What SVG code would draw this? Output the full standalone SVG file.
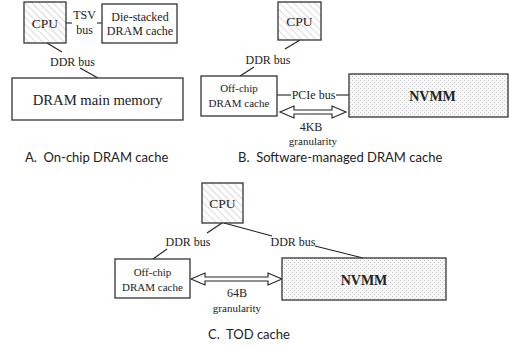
<svg xmlns="http://www.w3.org/2000/svg" width="510" height="347" viewBox="0 0 510 347">
  <defs>
    <!-- diagonal hatching for processor boxes -->
    <pattern id="hatch" width="5" height="5" patternUnits="userSpaceOnUse" patternTransform="rotate(-45)">
      <line x1="0" y1="0" x2="0" y2="5" stroke="#b8b8b8" stroke-width="1"/>
    </pattern>
    <!-- fine dot texture for non-volatile memory -->
    <pattern id="dots" width="4" height="4" patternUnits="userSpaceOnUse">
      <rect width="4" height="4" fill="#f8f8f8"/>
      <rect x="0" y="0" width="1" height="1" fill="#cacaca"/>
      <rect x="2" y="2" width="1" height="1" fill="#cacaca"/>
    </pattern>
  </defs>
  <style>
    .box { fill: #fff; stroke: #333; stroke-width: 1.3; }
    .cpu { fill: url(#hatch); stroke: #333; stroke-width: 1.3; }
    .nvmm { fill: url(#dots); stroke: #333; stroke-width: 1.3; }
    .wire { stroke: #222; stroke-width: 1.1; fill: none; }
    .dbl { fill: #fff; stroke: #222; stroke-width: 1.1; }
    .s { font-family: 'Liberation Serif', 'DejaVu Serif', serif; fill: #222; text-anchor: middle; }
    .t13 { font-size: 13.5px; }
    .t12 { font-size: 12px; }
    .t11 { font-size: 11px; }
    .t15 { font-size: 14.7px; }
    .bold { font-size: 14px; font-weight: bold; }
    .cap { font-family: Lato, 'Open Sans', 'Liberation Sans', sans-serif; font-size: 13px; fill: #222; }
  </style>

  <rect width="510" height="347" fill="#fff"/>

  <!-- connectors -->
  <g id="connectors">
    <!-- A -->
    <line class="wire" x1="66" y1="23" x2="72" y2="23"/>
    <line class="wire" x1="97" y1="23" x2="102" y2="23"/>
    <line class="wire" x1="47" y1="43" x2="62" y2="52"/>
    <line class="wire" x1="80" y1="68" x2="98" y2="78"/>
    <!-- B -->
    <line class="wire" x1="300" y1="40" x2="285" y2="49"/>
    <line class="wire" x1="254" y1="67" x2="240" y2="76"/>
    <line class="wire" x1="277" y1="95" x2="291" y2="95"/>
    <line class="wire" x1="336" y1="95" x2="349" y2="95"/>
    <path class="dbl" d="M280,112 L294,106 L294,110 L332,110 L332,106 L346,112 L332,118 L332,114 L294,114 L294,118 Z"/>
    <!-- C -->
    <line class="wire" x1="222" y1="223" x2="207" y2="233"/>
    <line class="wire" x1="167" y1="249" x2="153" y2="259"/>
    <line class="wire" x1="224" y1="223" x2="272" y2="236"/>
    <line class="wire" x1="315" y1="246" x2="363" y2="258"/>
    <path class="dbl" d="M191,279 L205,273 L205,277 L268,277 L268,273 L282,279 L268,285 L268,281 L205,281 L205,285 Z"/>
  </g>

  <!-- A. On-chip DRAM cache -->
  <g id="a-cpu">
    <rect class="cpu" x="24" y="2" width="42" height="41"/>
    <text class="s t13" x="45" y="27.5">CPU</text>
  </g>
  <g id="a-tsv-label">
    <text class="s t12" x="84.5" y="19">TSV</text>
    <text class="s t12" x="84.5" y="34">bus</text>
  </g>
  <g id="a-diecache">
    <rect class="box" x="102" y="4" width="75" height="39"/>
    <text class="s t12" x="140" y="20.5">Die-stacked</text>
    <text class="s t12" x="140" y="35">DRAM cache</text>
  </g>
  <g id="a-ddr-label">
    <text class="s t12" x="72.5" y="66">DDR bus</text>
  </g>
  <g id="a-mainmem">
    <rect class="box" x="12" y="78" width="171" height="42"/>
    <text class="s t15" x="97.5" y="105">DRAM main memory</text>
  </g>
  <text class="cap" x="25" y="162" xml:space="preserve">A.  On-chip DRAM cache</text>

  <!-- B. Software-managed DRAM cache -->
  <g id="b-cpu">
    <rect class="cpu" x="278" y="2" width="43" height="38"/>
    <text class="s t13" x="299.5" y="26">CPU</text>
  </g>
  <g id="b-ddr-label">
    <text class="s t12" x="268" y="64">DDR bus</text>
  </g>
  <g id="b-offchip">
    <rect class="box" x="201" y="76" width="76" height="40"/>
    <text class="s t11" x="239" y="92">Off-chip</text>
    <text class="s t11" x="239" y="107">DRAM cache</text>
  </g>
  <g id="b-pcie-label">
    <text class="s t12" x="313.5" y="99">PCIe bus</text>
  </g>
  <g id="b-nvmm">
    <rect class="nvmm" x="349" y="74" width="159" height="43"/>
    <text class="s bold" x="432.5" y="101">NVMM</text>
  </g>
  <g id="b-gran-label">
    <text class="s t12" x="311" y="131">4KB</text>
    <text class="s t11" x="313" y="145">granularity</text>
  </g>
  <text class="cap" x="238" y="162" xml:space="preserve">B.  Software-managed DRAM cache</text>

  <!-- C. TOD cache -->
  <g id="c-cpu">
    <rect class="cpu" x="202" y="183" width="41" height="40"/>
    <text class="s t13" x="222.5" y="208">CPU</text>
  </g>
  <g id="c-ddr-left-label">
    <text class="s t12" x="188" y="246">DDR bus</text>
  </g>
  <g id="c-ddr-right-label">
    <text class="s t12" x="293" y="246">DDR bus</text>
  </g>
  <g id="c-offchip">
    <rect class="box" x="115" y="259" width="75" height="39"/>
    <text class="s t11" x="152.5" y="276">Off-chip</text>
    <text class="s t11" x="152.5" y="291">DRAM cache</text>
  </g>
  <g id="c-nvmm">
    <rect class="nvmm" x="282" y="258" width="164" height="42"/>
    <text class="s bold" x="364" y="285">NVMM</text>
  </g>
  <g id="c-gran-label">
    <text class="s t12" x="237" y="297">64B</text>
    <text class="s t11" x="237" y="312">granularity</text>
  </g>
  <text class="cap" x="208" y="339" xml:space="preserve">C.  TOD cache</text>
</svg>
